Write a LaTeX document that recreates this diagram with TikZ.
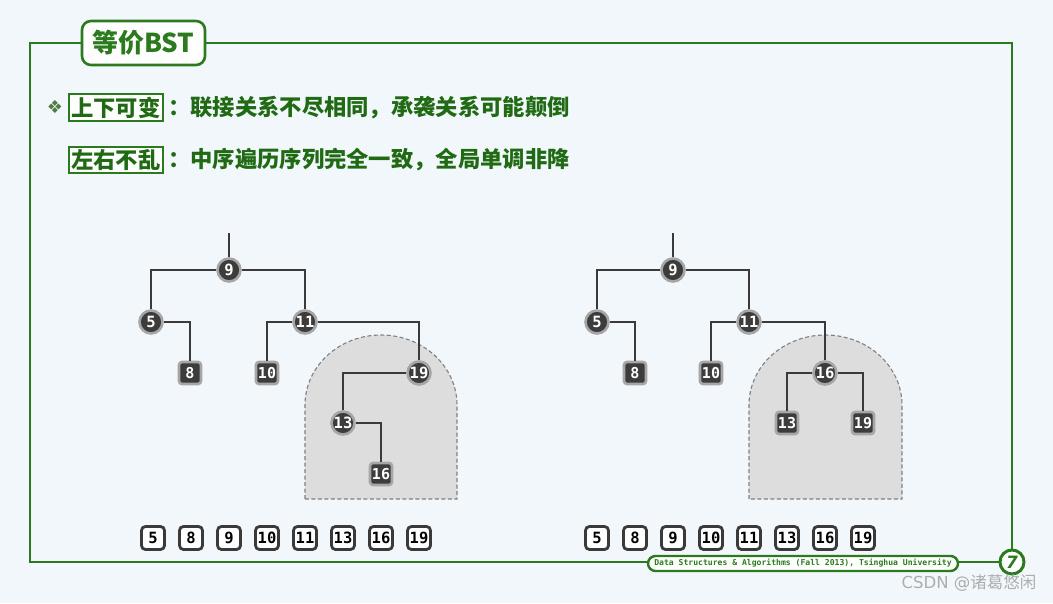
\documentclass[tikz,border=0pt]{standalone}
\usepackage{fontspec}
\newfontfamily\cjk{Noto Sans CJK SC}
\newfontfamily\mono{DejaVu Sans Mono}
\newfontfamily\dejavu{DejaVu Sans}
\definecolor{bg}{HTML}{F2F7FC}
\definecolor{frame}{HTML}{2C7A1E}
\definecolor{txt}{HTML}{1F6A12}
\definecolor{nodefill}{HTML}{3C3C3C}
\definecolor{ring}{HTML}{A6A6A6}
\definecolor{edge}{HTML}{3A3A3A}
\definecolor{shade}{HTML}{DDDDDD}
\definecolor{dashc}{HTML}{808080}
\tikzset{
  cnode/.style={circle, fill=nodefill, draw=ring, line width=2.6pt, minimum size=23pt, inner sep=0pt, text=white, font=\mono\bfseries\fontsize{15.5}{15.5}\selectfont},
  snode/.style={rectangle, rounded corners=3pt, fill=nodefill, draw=ring, line width=2.6pt, minimum size=22pt, inner xsep=1pt, inner ysep=0pt, text=white, font=\mono\bfseries\fontsize{15}{15}\selectfont},
  seqbox/.style={rectangle, rounded corners=4pt, fill=white, draw=edge, line width=2.8pt, minimum size=23pt, inner xsep=1pt, inner ysep=0pt, text=black, font=\mono\bfseries\fontsize{15.5}{15.5}\selectfont},
  edg/.style={draw=edge, line width=2.8pt},
  region/.style={fill=shade, draw=dashc, dash pattern=on 4pt off 2.5pt, line width=1.1pt},
  keybox/.style={draw=frame, line width=1.5pt, fill=white, inner sep=2.5pt, text=txt, font=\cjk\bfseries\fontsize{22.3}{22.3}\selectfont},
  bodytxt/.style={text=txt, font=\cjk\bfseries\fontsize{22.3}{22.3}\selectfont, inner sep=0pt}
}
\begin{document}
\begin{tikzpicture}[x=1pt,y=-1pt]
\useasboundingbox (0,0) rectangle (1053,603);
\fill[bg] (0,0) rectangle (1053,603);

% frame
\draw[frame, line width=2.6pt] (1012,549) -- (1012,43) -- (205,43);
\draw[frame, line width=2.6pt] (82,43) -- (30,43) -- (30,562) -- (648,562);
\draw[frame, line width=2.6pt] (958,562) -- (999,562);
\node[draw=frame, line width=2.6pt, fill=white, rounded corners=9pt, minimum width=123pt, minimum height=44pt, inner sep=0pt, text=frame, font=\cjk\bfseries\fontsize{26}{26}\selectfont] (title) at (143.5,43) {等价BST};
\node[draw=frame, line width=2.4pt, fill=white, rounded corners=7.5pt, minimum width=310pt, minimum height=15pt, inner sep=0pt, text=frame, font=\mono\bfseries\fontsize{8.1}{8.1}\selectfont] (footer) at (803,563.5) {Data Structures \& Algorithms (Fall 2013), Tsinghua University};
\node[circle, draw=frame, line width=3pt, fill=white, minimum size=24pt, inner sep=0pt, text=frame, font=\dejavu\bfseries\itshape\fontsize{17}{17}\selectfont] (pg) at (1012,562) {7};

% bullets
\node[text=frame!60!gray, font=\dejavu\fontsize{18}{18}\selectfont, inner sep=0pt] (bul) at (55,107) {❖};
\node[keybox, anchor=west] (k1) at (68,107.5) {上下可变};
\node[bodytxt, anchor=west] (t1) at (168,107.5) {：联接关系不尽相同，承袭关系可能颠倒};
\node[keybox, anchor=west] (k2) at (68,160) {左右不乱};
\node[bodytxt, anchor=west] (t2) at (168,160) {：中序遍历序列完全一致，全局单调非降};

% shaded regions
\draw[region] (305,499) -- (305,405) arc[start angle=180, end angle=360, x radius=76, y radius=70] -- (457,499) -- cycle;
\draw[region] (749,499) -- (749,405) arc[start angle=180, end angle=360, x radius=76.5, y radius=70] -- (902,499) -- cycle;

% tree 1
\coordinate (r1) at (229,233);
\node[cnode] (a9) at (229,270) {9};
\node[cnode] (a5) at (151,322) {5};
\node[cnode] (a11) at (305,322) {11};
\node[snode] (a8) at (190,373) {8};
\node[snode] (a10) at (267,373) {10};
\node[cnode] (a19) at (419,373) {19};
\node[cnode] (a13) at (343,423) {13};
\node[snode] (a16) at (381,474) {16};
\draw[edg] (r1) -- (a9);
\draw[edg] (a9) -| (a5);
\draw[edg] (a9) -| (a11);
\draw[edg] (a5) -| (a8);
\draw[edg] (a11) -| (a10);
\draw[edg] (a11) -| (a19);
\draw[edg] (a19) -| (a13);
\draw[edg] (a13) -| (a16);

% tree 2
\coordinate (r2) at (673,233);
\node[cnode] (b9) at (673,270) {9};
\node[cnode] (b5) at (597,322) {5};
\node[cnode] (b11) at (749,322) {11};
\node[snode] (b8) at (635,373) {8};
\node[snode] (b10) at (711,373) {10};
\node[cnode] (b16) at (825,373) {16};
\node[snode] (b13) at (787,423) {13};
\node[snode] (b19) at (863,423) {19};
\draw[edg] (r2) -- (b9);
\draw[edg] (b9) -| (b5);
\draw[edg] (b9) -| (b11);
\draw[edg] (b5) -| (b8);
\draw[edg] (b11) -| (b10);
\draw[edg] (b11) -| (b16);
\draw[edg] (b16) -| (b13);
\draw[edg] (b16) -| (b19);

% sequences
\foreach \v [count=\i] in {5,8,9,10,11,13,16,19} {
  \node[seqbox] (sa\i) at ({153+38*(\i-1)},538) {\v};
  \node[seqbox] (sb\i) at ({597+38*(\i-1)},538) {\v};
}

% watermark
\node[text=black!32, font=\dejavu\fontsize{16.5}{16.5}\selectfont, inner sep=0pt] (wm) at (969,583) {CSDN @{\cjk 诸葛悠闲}};
\end{tikzpicture}
\end{document}
